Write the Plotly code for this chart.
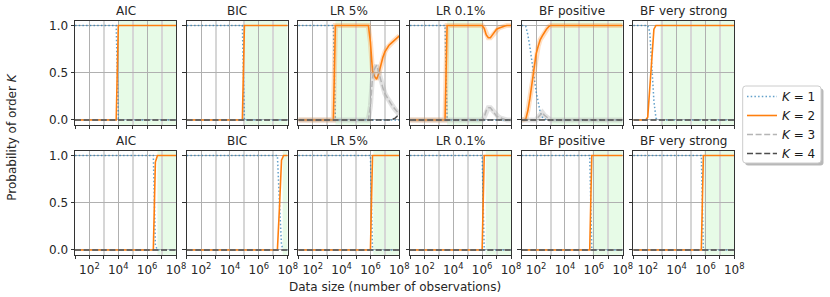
import plotly.graph_objects as go

W, H = 830, 297

METHODS = ["AIC", "BIC", "LR 5%", "LR 0.1%", "BF positive", "BF very strong"]
ORDER_NAMES = ["<i>K</i> = 1", "<i>K</i> = 2", "<i>K</i> = 3", "<i>K</i> = 4"]
X_TICK_EXP = [2, 4, 6, 8]
X_MINOR_EXP = [1, 3, 5, 7]
Y_TICKS = [0.0, 0.5, 1.0]
Y_TICK_TEXT = ["0.0", "0.5", "1.0"]

# ---- top row: log10(data size) and probability of each order K ----
top_aic = dict(logn=[1.0, 3.857, 4.0, 8.0],
               k1=[1, 1, 0, 0], k2=[0, 0, 1, 1], k3=[0, 0, 0, 0], k4=[0, 0, 0, 0])
top_bic = dict(logn=[1.0, 4.857, 5.0, 8.0],
               k1=[1, 1, 0, 0], k2=[0, 0, 1, 1], k3=[0, 0, 0, 0], k4=[0, 0, 0, 0])
top_lr5 = dict(
    logn=[1.0, 3.429, 3.571, 5.714, 5.857, 6.0, 6.143, 6.286, 6.429, 6.571, 6.714,
          6.857, 7.0, 7.143, 7.286, 7.429, 7.571, 7.714, 7.857, 8.0],
    k1=[1, 1, 0, 0, 0, 0, 0, 0, 0, 0, 0, 0, 0, 0, 0, 0, 0, 0, 0, 0],
    k2=[0, 0, 1, 1, 1.0, 0.82, 0.52, 0.46, 0.43, 0.49, 0.58, 0.66, 0.72, 0.76,
        0.79, 0.81, 0.83, 0.85, 0.87, 0.89],
    k3=[0, 0, 0, 0, 0, 0.15, 0.45, 0.54, 0.58, 0.51, 0.42, 0.34, 0.28, 0.24,
        0.2, 0.17, 0.14, 0.11, 0.09, 0.06],
    k4=[0, 0, 0, 0, 0, 0, 0, 0, 0, 0, 0, 0, 0, 0, 0, 0, 0.01, 0.02, 0.04, 0.05])
top_lr01 = dict(
    logn=[1.0, 3.429, 3.571, 6.0, 6.143, 6.286, 6.429, 6.571, 6.714, 6.857, 7.0,
          7.143, 7.286, 7.429, 7.571, 7.714, 8.0],
    k1=[1, 1, 0, 0, 0, 0, 0, 0, 0, 0, 0, 0, 0, 0, 0, 0, 0],
    k2=[0, 0, 1, 1, 0.97, 0.9, 0.87, 0.87, 0.9, 0.93, 0.96, 0.97, 0.98, 0.99,
        0.995, 1.0, 1.0],
    k3=[0, 0, 0, 0, 0.03, 0.1, 0.13, 0.13, 0.1, 0.07, 0.04, 0.03, 0.02, 0.01,
        0.005, 0, 0],
    k4=[0] * 17)
top_bfp = dict(
    logn=[1.0, 1.143, 1.286, 1.429, 1.571, 1.714, 1.857, 2.0, 2.143, 2.286, 2.429,
          2.571, 2.714, 2.857, 3.0, 8.0],
    k1=[1, 1, 0.99, 0.9, 0.77, 0.6, 0.46, 0.3, 0.19, 0.08, 0.03, 0.01, 0, 0, 0, 0],
    k2=[0, 0, 0.01, 0.1, 0.23, 0.4, 0.54, 0.7, 0.78, 0.85, 0.89, 0.93, 0.96,
        0.985, 1, 1],
    k3=[0, 0, 0, 0, 0, 0, 0, 0, 0.03, 0.06, 0.08, 0.05, 0.03, 0.01, 0, 0],
    k4=[0] * 16)
top_bfvs = dict(
    logn=[1.0, 1.857, 2.0, 2.143, 2.286, 2.429, 2.571, 2.714, 8.0],
    k1=[1, 1, 1.0, 0.93, 0.55, 0.2, 0.02, 0, 0],
    k2=[0, 0, 0.03, 0.35, 0.75, 0.96, 1.0, 1.0, 1.0],
    k3=[0] * 9, k4=[0] * 9)

# ---- bottom row ----
bot_aic = dict(logn=[1.0, 6.429, 6.571, 6.714, 8.0],
               k1=[1, 1, 0.05, 0, 0], k2=[0, 0, 0.93, 1, 1], k3=[0] * 5, k4=[0] * 5)
bot_bic = dict(logn=[1.0, 7.286, 7.429, 7.571, 7.714, 8.0],
               k1=[1, 1, 0.5, 0.05, 0, 0], k2=[0, 0, 0.45, 0.95, 1, 1],
               k3=[0] * 6, k4=[0] * 6)
bot_lr5 = dict(logn=[1.0, 6.0, 6.143, 8.0],
               k1=[1, 1, 0, 0], k2=[0, 0, 1, 1], k3=[0] * 4, k4=[0] * 4)
bot_lr01 = dict(logn=[1.0, 6.0, 6.143, 8.0],
                k1=[1, 1, 0, 0], k2=[0, 0, 1, 1], k3=[0] * 4, k4=[0] * 4)
bot_bfp = dict(logn=[1.0, 5.714, 5.857, 8.0],
               k1=[1, 1, 0, 0], k2=[0, 0, 1, 1], k3=[0] * 4, k4=[0] * 4)
bot_bfvs = dict(logn=[1.0, 5.714, 5.857, 8.0],
                k1=[1, 1, 0, 0], k2=[0, 0, 1, 1], k3=[0] * 4, k4=[0] * 4)

TOP_ROW = [top_aic, top_bic, top_lr5, top_lr01, top_bfp, top_bfvs]
BOTTOM_ROW = [bot_aic, bot_bic, bot_lr5, bot_lr01, bot_bfp, bot_bfvs]

# log10 range where the correct order (K = 2) is selected (green band)
TOP_SHADE = [(4.0, 8.0), (5.0, 8.0), (3.571, 6.0), (3.571, 6.0), (3.0, 8.0), (2.857, 8.0)]
BOTTOM_SHADE = [(6.714, 8.0), (7.65, 8.0), (6.2, 8.0), (6.25, 8.0), (5.9, 8.0), (5.9, 8.0)]

# panels with visible uncertainty bands
TOP_BANDS = [False, False, True, True, True, False]
BOTTOM_BANDS = [False] * 6

# ---- styles ----
FONT = "DejaVu Sans"
SERIES_STYLE = [
    dict(color="rgba(31,119,180,0.7)", dash="1.5px,2.2px", width=1.5),
    dict(color="#ff7f0e", dash="solid", width=1.6),
    dict(color="#b5b5b5", dash="6px,2.6px", width=1.5),
    dict(color="#4d4d4d", dash="6px,2.6px", width=1.5),
]
BAND_COLORS = ["rgba(31,119,180,0.18)", "rgba(255,127,14,0.25)",
               "rgba(160,160,160,0.3)", "rgba(80,80,80,0.2)"]

PANEL_LEFT = [75, 186.7, 298.3, 410, 521.7, 633.3]
PANEL_W = 101
ROW_TOP = [20.7, 150.7]
ROW_H = 104

fig = go.Figure()
annotations = []
shapes = []

rows = [(TOP_ROW, TOP_SHADE, TOP_BANDS), (BOTTOM_ROW, BOTTOM_SHADE, BOTTOM_BANDS)]
for r, (row_data, row_shade, row_bands) in enumerate(rows):
    for c in range(6):
        idx = r * 6 + c + 1
        xa = "x" if idx == 1 else f"x{idx}"
        ya = "y" if idx == 1 else f"y{idx}"
        d = row_data[c]
        xs = [10 ** v for v in d["logn"]]
        for k, key in enumerate(["k1", "k2", "k3", "k4"]):
            if row_bands[c] and k in (1, 2):
                fig.add_trace(go.Scatter(
                    x=xs, y=d[key], xaxis=xa, yaxis=ya, mode="lines",
                    line=dict(color=BAND_COLORS[k], width=5),
                    showlegend=False, hoverinfo="skip"))
            st = SERIES_STYLE[k]
            fig.add_trace(go.Scatter(
                x=xs, y=d[key], xaxis=xa, yaxis=ya, mode="lines",
                line=dict(color=st["color"], dash=st["dash"], width=st["width"]),
                name=ORDER_NAMES[k], legendgroup=key,
                showlegend=(idx == 1)))
        s0, s1 = row_shade[c]
        shapes.append(dict(type="rect", xref=xa, yref=f"{ya} domain",
                           x0=10 ** s0, x1=10 ** s1, y0=0, y1=1,
                           fillcolor="rgba(144,238,144,0.22)", line=dict(width=0),
                           layer="below"))
        left = PANEL_LEFT[c]
        top = ROW_TOP[r]
        xdom = [left / W, (left + PANEL_W) / W]
        ydom = [1 - (top + ROW_H) / H, 1 - top / H]
        axis_common = dict(showline=True, mirror=True, linecolor="#333333", linewidth=1,
                           ticks="outside", ticklen=3.5, tickwidth=1, tickcolor="#333333",
                           gridcolor="#b0b0b0", gridwidth=1, zeroline=False,
                           automargin=False,
                           tickfont=dict(family=FONT, size=12, color="#262626"))
        fig.layout[("xaxis" if idx == 1 else f"xaxis{idx}")] = dict(
            axis_common, type="log", domain=xdom, range=[1, 8], anchor=ya,
            tickmode="array", tickvals=[10 ** e for e in X_TICK_EXP],
            ticktext=[f"10<sup>{e}</sup>" for e in X_TICK_EXP],
            showticklabels=(r == 1),
            minor=dict(tickmode="array", tickvals=[10 ** e for e in X_MINOR_EXP],
                       ticks="outside", ticklen=3.5, tickcolor="#333333",
                       showgrid=True, gridcolor="#d6d6d6", gridwidth=1.6))
        fig.layout[("yaxis" if idx == 1 else f"yaxis{idx}")] = dict(
            axis_common, domain=ydom, range=[-0.05, 1.05], anchor=xa,
            tickmode="array", tickvals=Y_TICKS, ticktext=Y_TICK_TEXT,
            showticklabels=(c == 0))
        annotations.append(dict(text=METHODS[c], xref="paper", yref="paper",
                                x=(left + PANEL_W / 2) / W, y=1 - top / H,
                                xanchor="center", yanchor="bottom", yshift=1,
                                showarrow=False,
                                font=dict(family=FONT, size=12, color="#262626")))

annotations.append(dict(text="Data size (number of observations)", xref="paper",
                        yref="paper", x=395 / W, y=1 - 287 / H,
                        xanchor="center", yanchor="middle", showarrow=False,
                        font=dict(family=FONT, size=12, color="#262626")))
annotations.append(dict(text="Probability of order <i>K</i>", xref="paper",
                        yref="paper", x=12 / W, y=1 - 137.7 / H, textangle=-90,
                        xanchor="center", yanchor="middle", showarrow=False,
                        font=dict(family=FONT, size=12, color="#262626")))

# legend frame (rounded box with a soft shadow), in pixel units converted to paper
LEG_BOX = (742.7, 86, 821, 163)


def rounded_path(x0, y0, x1, y1, rad):
    X = lambda v: v / W
    Y = lambda v: 1 - v / H
    rx, ry = rad / W, rad / H
    return (f"M {X(x0) + rx},{Y(y0)} L {X(x1) - rx},{Y(y0)} "
            f"Q {X(x1)},{Y(y0)} {X(x1)},{Y(y0) - ry} "
            f"L {X(x1)},{Y(y1) + ry} Q {X(x1)},{Y(y1)} {X(x1) - rx},{Y(y1)} "
            f"L {X(x0) + rx},{Y(y1)} Q {X(x0)},{Y(y1)} {X(x0)},{Y(y1) + ry} "
            f"L {X(x0)},{Y(y0) - ry} Q {X(x0)},{Y(y0)} {X(x0) + rx},{Y(y0)} Z")


bx0, by0, bx1, by1 = LEG_BOX
shapes.append(dict(type="path", xref="paper", yref="paper", layer="above",
                   path=rounded_path(bx0 + 2.5, by0 + 2.5, bx1 + 2.5, by1 + 2.5, 3),
                   fillcolor="rgba(0,0,0,0.28)", line=dict(width=0)))
shapes.append(dict(type="path", xref="paper", yref="paper", layer="above",
                   path=rounded_path(bx0, by0, bx1, by1, 3),
                   fillcolor="white", line=dict(color="#cccccc", width=1)))

fig.update_layout(
    width=W, height=H,
    margin=dict(l=0, r=0, t=0, b=0, pad=0, autoexpand=False),
    paper_bgcolor="white", plot_bgcolor="white",
    font=dict(family=FONT, size=12, color="#262626"),
    annotations=annotations, shapes=shapes,
    legend=dict(x=742 / W, y=1 - 82 / H, xanchor="left", yanchor="top",
                bgcolor="rgba(0,0,0,0)", borderwidth=0,
                font=dict(family=FONT, size=12, color="#1a1a1a"),
                tracegroupgap=0, itemwidth=30),
)

fig.write_html("out.html",
               config={"displayModeBar": False},
               post_script="document.body.style.margin='0px';"
                           "document.body.style.overflow='hidden';")
